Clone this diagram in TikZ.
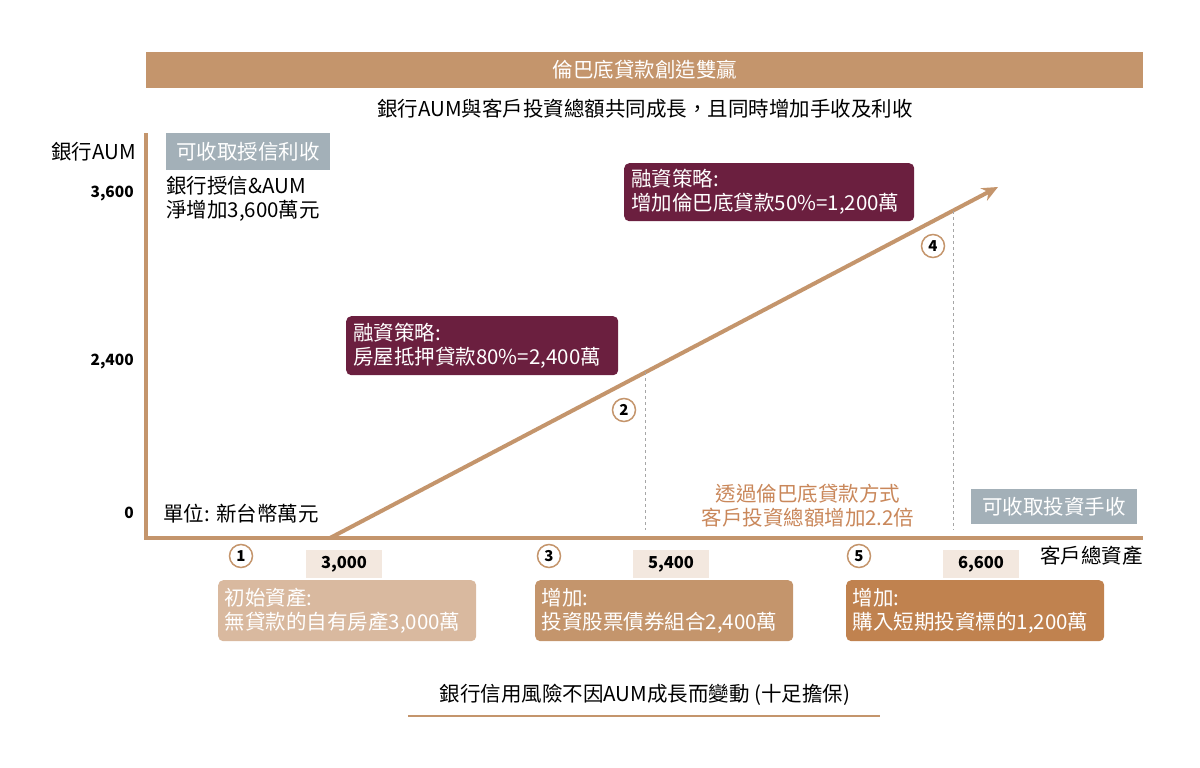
\documentclass[tikz,border=0pt]{standalone}
\usepackage{fontspec}
\setmainfont{Noto Sans CJK TC}
\usetikzlibrary{positioning, arrows.meta}

\definecolor{tan}{HTML}{C4956C}
\definecolor{wine}{HTML}{6B1F3F}
\definecolor{slate}{HTML}{A3B0B8}
\definecolor{lighttan}{HTML}{D9B99F}
\definecolor{darktan}{HTML}{C0824F}
\definecolor{tagbg}{HTML}{F3E8DF}
\definecolor{note}{HTML}{C9875A}

\tikzset{
  txt/.style={font=\fontsize{20.5}{24}\selectfont, inner sep=0pt},
  strategy/.style={fill=wine, rounded corners=5pt, text=white, align=left,
    font=\fontsize{20.5}{24}\selectfont, anchor=north west, inner sep=0pt},
  earn/.style={fill=slate, text=white, font=\fontsize{20.5}{24}\selectfont, inner sep=0pt},
  stepnum/.style={circle, draw=tan, line width=1.5pt, minimum size=23pt, inner sep=0pt,
    font=\bfseries\fontsize{15}{15}\selectfont},
  valtag/.style={fill=tagbg, minimum width=76pt, minimum height=28pt, inner sep=0pt,
    font=\bfseries\fontsize{16.5}{16.5}\selectfont},
  assetbox/.style={rounded corners=5pt, text=white, align=left, anchor=north west,
    font=\fontsize{20.5}{24}\selectfont, minimum width=258pt, minimum height=61pt,
    inner sep=0pt, text width=245pt},
  ytick/.style={font=\bfseries\fontsize{15.5}{15.5}\selectfont, anchor=east, inner sep=0pt},
}

\begin{document}
\begin{tikzpicture}[x=1pt, y=-1pt]
  \useasboundingbox (0,0) rectangle (1200,768);

  % header
  \fill[tan] (146,52) rectangle (1143,88);
  \node[txt, text=white] (title) at (645,70) {倫巴底貸款創造雙贏};
  \node[txt] (subtitle) at (645,109)
    {銀行AUM與客戶投資總額共同成長，且同時增加手收及利收};

  % axes
  \coordinate (origin) at (146,538);
  \coordinate (ytop) at (146,133);
  \coordinate (xend) at (1143,538);
  \draw[tan, line width=4pt] (ytop) -- (origin) -- (xend);

  \node[txt, anchor=east] (ylabel) at (136,152) {銀行AUM};
  \node[ytick] (t3600) at (134,194) {3,600};
  \node[ytick] (t2400) at (134,362) {2,400};
  \node[ytick] (t0) at (134,513) {0};
  \node[txt, anchor=east] (xlabel) at (1143,556) {客戶總資產};

  \node[earn, minimum width=164pt, minimum height=37pt] (bankfee) at (248,151.5) {可收取授信利收};
  \node[txt, anchor=north west, align=left] (bankgain) at (166,176) {銀行授信\&AUM\\淨增加3,600萬元};
  \node[txt, anchor=west] (unit) at (163,514) {單位: 新台幣萬元};

  % growth line
  \coordinate (lstart) at (330,538);
  \coordinate (lend) at (998,187);
  \draw[tan, line width=4pt, -{Stealth[length=16pt, width=14pt]}] (lstart) -- (lend);

  % strategies
  \node[strategy, minimum width=272pt, minimum height=59pt, text width=258pt] (strat1) at (346,316)
    {融資策略:\\房屋抵押貸款80\%=2,400萬};
  \node[strategy, minimum width=290pt, minimum height=58pt, text width=276pt] (strat2) at (624,163)
    {融資策略:\\增加倫巴底貸款50\%=1,200萬};

  % guides
  \coordinate (g2top) at (645,372);
  \coordinate (g2bot) at (645,530);
  \coordinate (g4top) at (953,211);
  \coordinate (g4bot) at (953,530);
  \draw[gray!70, dashed, line width=0.6pt] (g2top) -- (g2bot);
  \draw[gray!70, dashed, line width=0.6pt] (g4top) -- (g4bot);

  \node[stepnum] (n2) at (624,410) {2};
  \node[stepnum] (n4) at (933,246) {4};
  \node[stepnum] (n1) at (241,556) {1};
  \node[stepnum] (n3) at (549,556) {3};
  \node[stepnum] (n5) at (859,556) {5};

  \node[txt, text=note, align=center] (growth) at (808,506)
    {透過倫巴底貸款方式\\客戶投資總額增加2.2倍};
  \node[earn, minimum width=166pt, minimum height=35pt] (investfee) at (1054,506.5) {可收取投資手收};

  % values
  \node[valtag] (v1) at (344,564) {3,000};
  \node[valtag] (v2) at (671,564) {5,400};
  \node[valtag] (v3) at (981,564) {6,600};

  \node[assetbox, fill=lighttan] (a1) at (218,580) {初始資產:\\無貸款的自有房產3,000萬};
  \node[assetbox, fill=tan] (a2) at (535,580) {增加:\\投資股票債券組合2,400萬};
  \node[assetbox, fill=darktan] (a3) at (846,580) {增加:\\購入短期投資標的1,200萬};

  % footer
  \node[txt] (risk) at (645,695) {銀行信用風險不因AUM成長而變動 (十足擔保)};
  \coordinate (ul1) at (408,716);
  \coordinate (ul2) at (880,716);
  \draw[tan, line width=2pt] (ul1) -- (ul2);
\end{tikzpicture}
\end{document}
